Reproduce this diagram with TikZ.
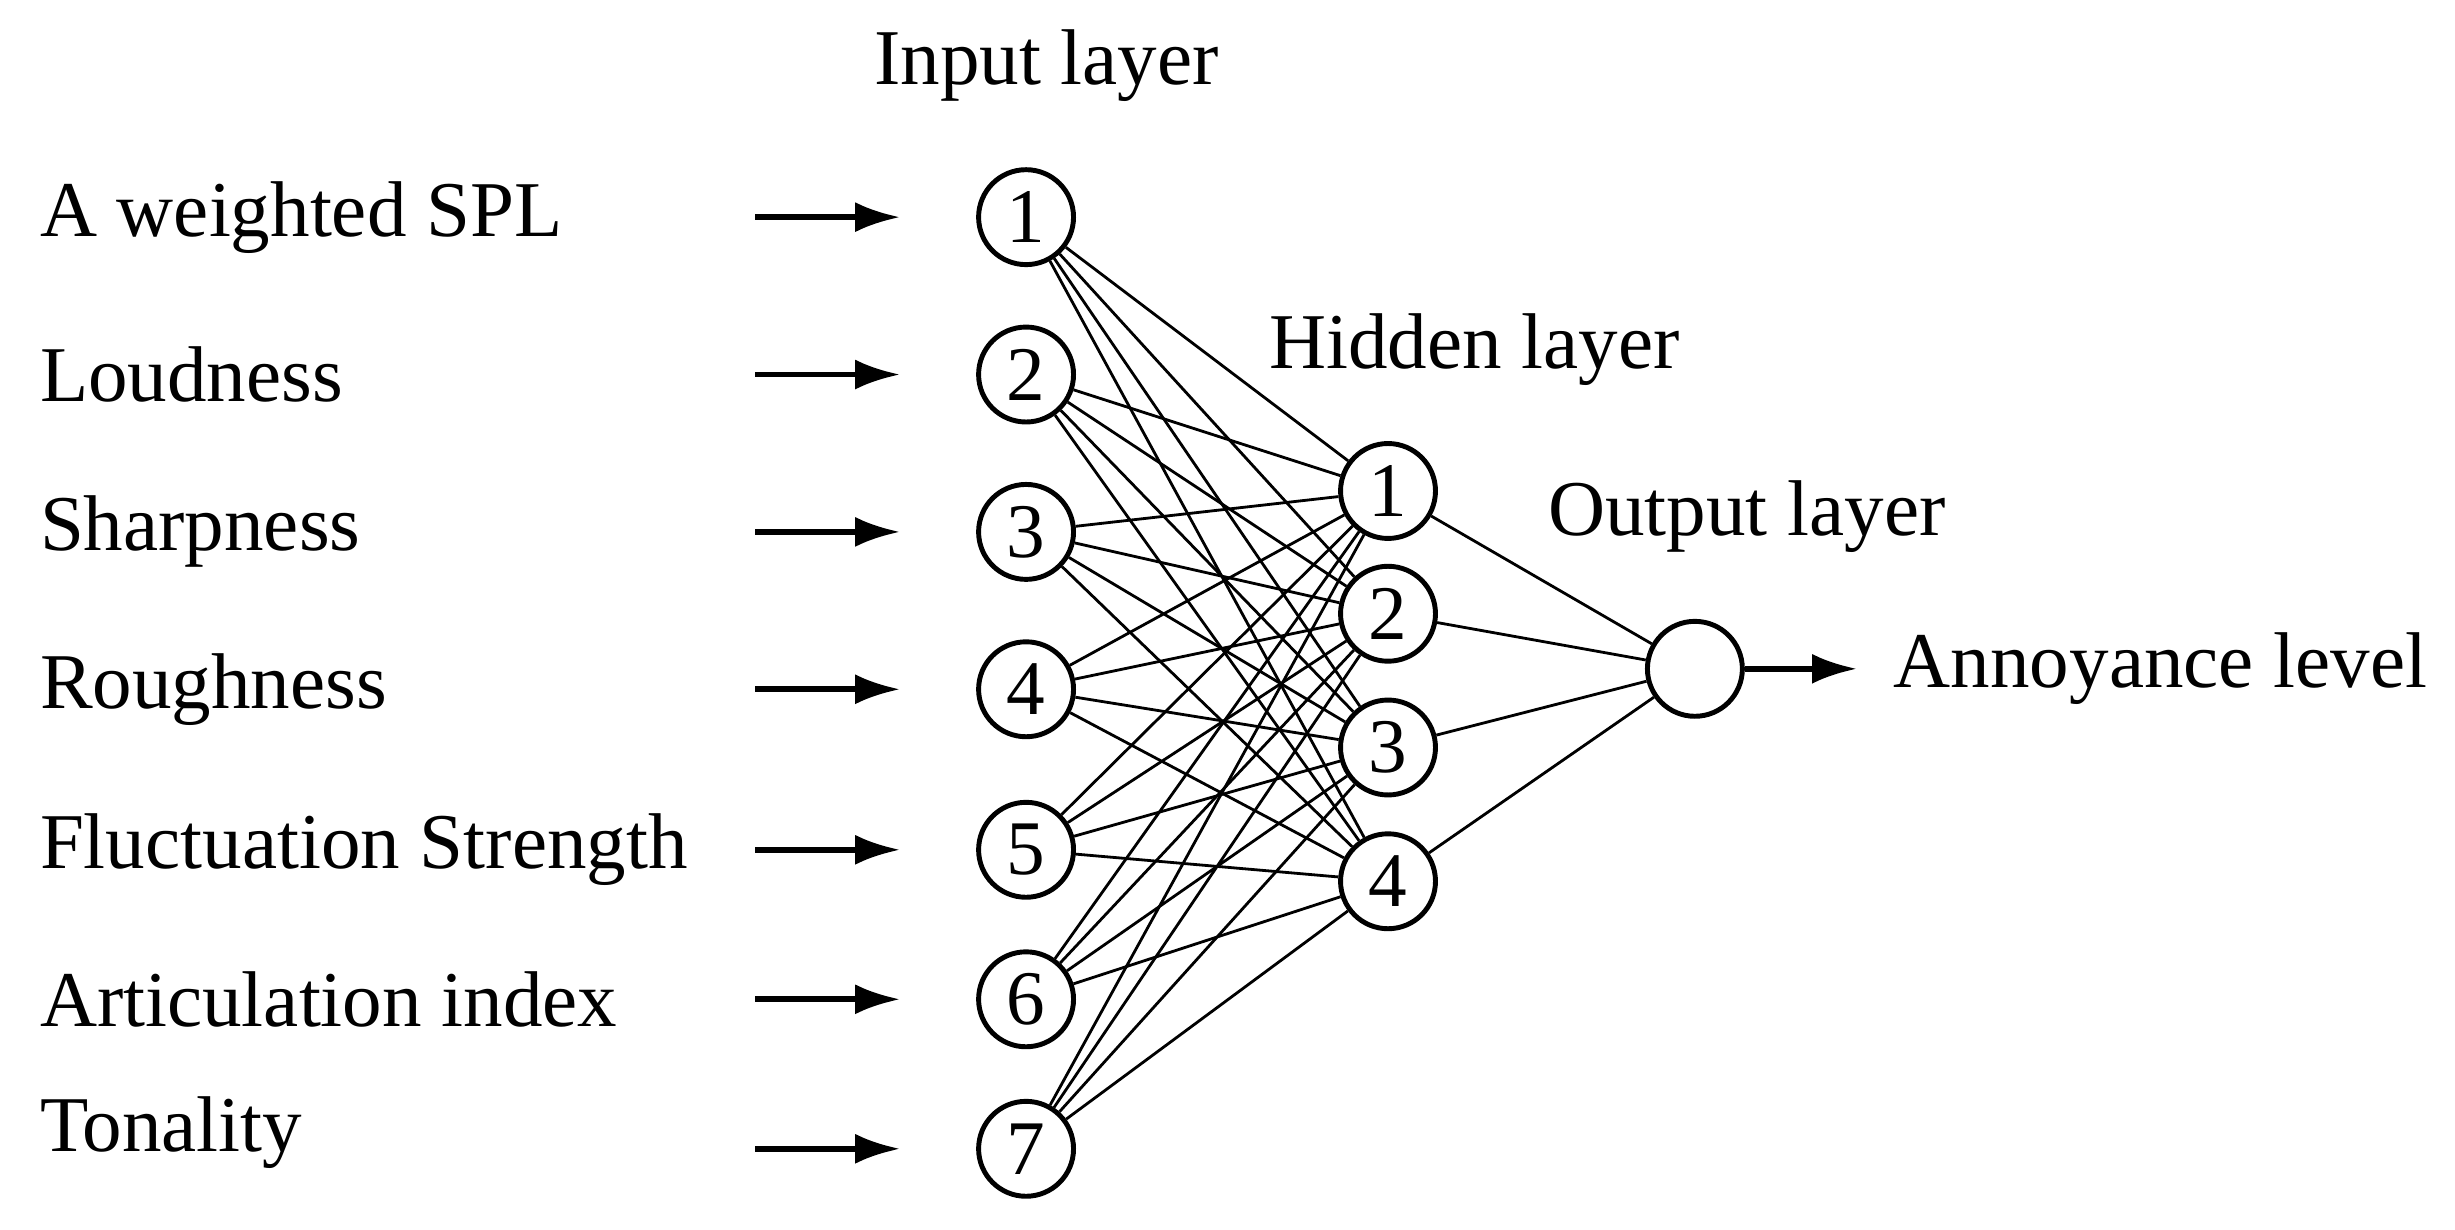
\documentclass[tikz,border=0pt]{standalone}
\usepackage{fontspec}
\setmainfont{Liberation Serif}
\usetikzlibrary{arrows.meta}
\begin{document}
\begin{tikzpicture}[x=0.01574cm,y=-0.01574cm,
  neuron/.style={circle,draw,line width=1.4pt,minimum size=0.95cm,inner sep=0pt,font=\fontsize{22}{24}\selectfont},
  lab/.style={font=\fontsize{22.5}{26}\selectfont,inner sep=0pt},
  link/.style={line width=0.8pt},
  arr/.style={line width=1.6pt,-{Latex[length=0.45cm,width=0.3cm]}}]
\useasboundingbox (0,0) rectangle (1560,781);
\foreach \i/\y in {1/138,2/238,3/338,4/438,5/540,6/635,7/730}
  \node[neuron] (i\i) at (652,\y) {\i};
\foreach \j/\y in {1/312,2/390,3/475,4/560}
  \node[neuron] (h\j) at (882,\y) {\j};
\node[neuron] (o) at (1077,425) {};
\foreach \i in {1,...,7}
  \foreach \j in {1,...,4}
    \draw[link] (i\i) -- (h\j);
\foreach \j in {1,...,4}
  \draw[link] (h\j) -- (o);
\foreach \i/\y/\t in {1/138/A weighted SPL,2/238/Loudness,3/338/Sharpness,4/438/Roughness,5/540/Fluctuation Strength,6/635/Articulation index,7/720/Tonality}{
  \node[lab,anchor=west] (l\i) at (25,\y) {\t};
}
\foreach \i/\y in {1/138,2/238,3/338,4/438,5/540,6/635,7/730}{
  \coordinate (s\i) at (480,\y);
  \coordinate (e\i) at (572,\y);
  \draw[arr] (s\i) -- (e\i);
}
\coordinate (oe) at (1180,425);
\draw[arr] (o) -- (oe);
\node[lab,anchor=west] (al) at (1203,425) {Annoyance level};
\node[lab] (il) at (665,42) {Input layer};
\node[lab] (hl) at (937,222) {Hidden layer};
\node[lab] (ol) at (1110,328) {Output layer};
\end{tikzpicture}
\end{document}
